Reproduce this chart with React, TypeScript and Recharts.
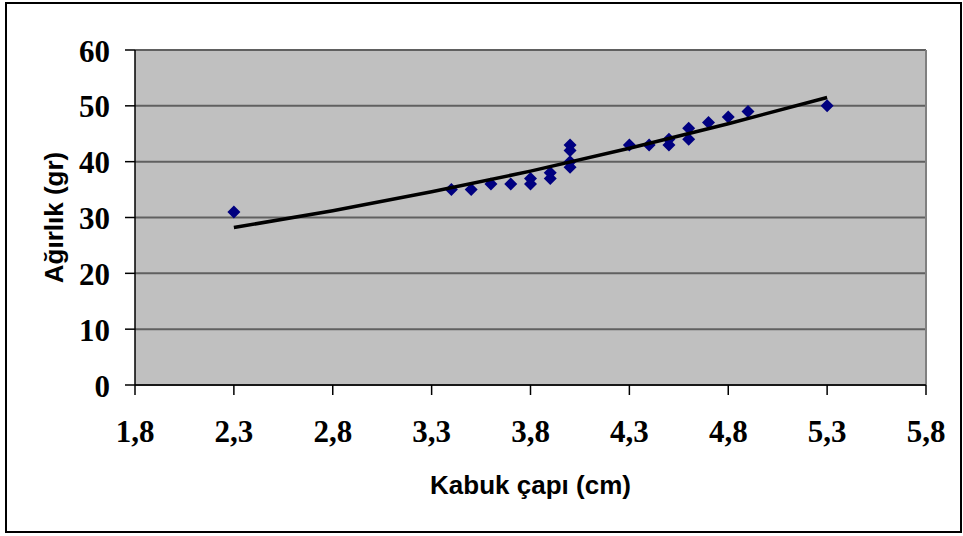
import React from 'react';
import { ScatterChart, Scatter, XAxis, YAxis, CartesianGrid, ReferenceLine } from 'recharts';

const shellDiameter = [2.3, 3.4, 3.5, 3.6, 3.7, 3.8, 3.8, 3.9, 3.9, 4.0, 4.0, 4.0, 4.0, 4.3, 4.4, 4.5, 4.5, 4.6, 4.6, 4.7, 4.8, 4.9, 5.3];
const weight = [31, 35, 35, 36, 36, 37, 36, 38, 37, 43, 42, 40, 39, 43, 43, 44, 43, 46, 44, 47, 48, 49, 50];

// trend line
const trendX = [2.3, 2.8, 3.3, 3.8, 4.3, 4.8, 5.3];
const trendY = [28.2, 31.2, 34.6, 38.3, 42.4, 46.8, 51.5];

const xTicks = [1.8, 2.3, 2.8, 3.3, 3.8, 4.3, 4.8, 5.3, 5.8];
const yTicks = [0, 10, 20, 30, 40, 50, 60];

const points = shellDiameter.map((x, i) => ({ x, y: weight[i] }));
const trend = trendX.map((x, i) => ({ x, y: trendY[i] }));

const Diamond = (props: any) => {
  const { cx, cy } = props;
  if (cx == null || cy == null) return null;
  const r = 6.5;
  return (
    <polygon
      points={`${cx},${cy - r} ${cx + r},${cy} ${cx},${cy + r} ${cx - r},${cy}`}
      fill="#000080"
    />
  );
};

const SERIF = '"Liberation Serif", "Times New Roman", serif';
const SANS = '"Liberation Sans", Arial, sans-serif';

const XTick = (props: any) => {
  const { x, y, payload } = props;
  return (
    <text x={x} y={y} dy={47} textAnchor="middle" fontFamily={SERIF} fontWeight={700} fontSize={31} fill="#000">
      {Number(payload.value).toFixed(1).replace('.', ',')}
    </text>
  );
};

const YTick = (props: any) => {
  const { x, y, payload } = props;
  return (
    <text x={x} y={y} dx={-15} dy={11.5} textAnchor="end" fontFamily={SERIF} fontWeight={700} fontSize={31} fill="#000">
      {payload.value}
    </text>
  );
};

export default function App() {
  return (
    <div style={{ position: 'absolute', left: 0, top: 0, width: 963, height: 536, background: '#fff' }}>
      <div style={{ position: 'absolute', left: 5, top: 2, width: 953, height: 527, border: '2px solid #000' }} />
      <ScatterChart width={963} height={536} margin={{ top: 50, right: 37, bottom: 0, left: 0 }}>
        <CartesianGrid vertical={false} fill="#C0C0C0" stroke="#606060" strokeWidth={2} fillOpacity={1} />
        <XAxis
          type="number"
          dataKey="x"
          domain={[1.8, 5.8]}
          ticks={xTicks}
          tick={<XTick />}
          tickSize={10}
          tickMargin={0}
          stroke="#000"
          strokeWidth={1.5}
          height={151}
          allowDataOverflow
          label={(p: any) => {
            const vb = p.viewBox;
            return (
              <text x={vb.x + vb.width / 2} y={494} textAnchor="middle" fontFamily={SANS} fontWeight={700} fontSize={26} fill="#000">
                Kabuk çapı (cm)
              </text>
            );
          }}
        />
        <YAxis
          type="number"
          dataKey="y"
          domain={[0, 60]}
          ticks={yTicks}
          tick={<YTick />}
          tickSize={10}
          tickMargin={0}
          stroke="#000"
          strokeWidth={1.5}
          width={135}
          allowDataOverflow
          label={(p: any) => {
            const vb = p.viewBox;
            const cy = vb.y + vb.height / 2;
            return (
              <text x={63} y={cy} textAnchor="middle" transform={`rotate(-90, 63, ${cy})`} fontFamily={SANS} fontWeight={700} fontSize={26} fill="#000">
                Ağırlık (gr)
              </text>
            );
          }}
        />
        <ReferenceLine x={5.8} stroke="#808080" strokeWidth={2} />
        <Scatter data={points} shape={<Diamond />} isAnimationActive={false} />
        <Scatter
          data={trend}
          line={{ stroke: '#000', strokeWidth: 3.5 }}
          shape={() => null}
          isAnimationActive={false}
        />
      </ScatterChart>
    </div>
  );
}
